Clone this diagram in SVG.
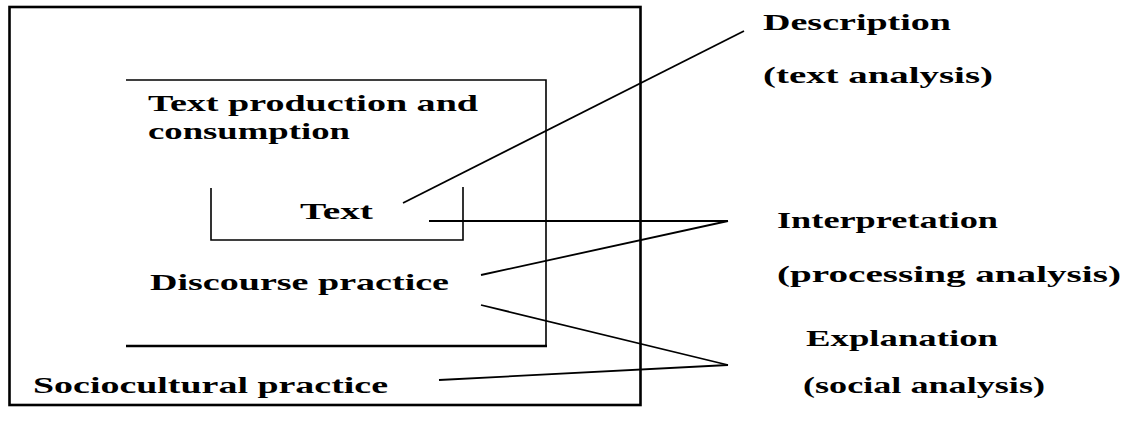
<svg xmlns="http://www.w3.org/2000/svg" width="1122" height="423" viewBox="0 0 1122 423">
<style>
text{font-family:"Liberation Serif","Times New Roman",serif;font-weight:bold;font-size:24px;fill:#000}
.box{fill:none;stroke:#000}
.conn{stroke:#000;stroke-width:1.8;fill:none}
</style>
<rect width="1122" height="423" fill="#fff"/>
<g id="sociocultural">
<rect class="box" x="9.5" y="7" width="631" height="398" stroke-width="2.6"/>
<text x="33" y="393" textLength="355" lengthAdjust="spacingAndGlyphs">Sociocultural practice</text>
</g>
<g id="discourse">
<path class="box" d="M126 80 H546 V346" stroke-width="1.6"/>
<path class="box" d="M126 346 H547" stroke-width="2.6"/>
<text x="148" y="111" textLength="330" lengthAdjust="spacingAndGlyphs">Text production and</text>
<text x="148" y="139" textLength="202" lengthAdjust="spacingAndGlyphs">consumption</text>
<text x="150" y="290" textLength="299" lengthAdjust="spacingAndGlyphs">Discourse practice</text>
</g>
<g id="text-box">
<path class="box" d="M211 188 V240 H463 V187" stroke-width="1.6"/>
<text x="300" y="219" textLength="73" lengthAdjust="spacingAndGlyphs">Text</text>
</g>
<g id="description">
<text x="763" y="30" textLength="188" lengthAdjust="spacingAndGlyphs">Description</text>
<text x="763" y="83" textLength="230" lengthAdjust="spacingAndGlyphs">(text analysis)</text>
</g>
<g id="interpretation">
<text x="777" y="228" textLength="221" lengthAdjust="spacingAndGlyphs">Interpretation</text>
<text x="777" y="282" textLength="344" lengthAdjust="spacingAndGlyphs">(processing analysis)</text>
</g>
<g id="explanation">
<text x="806" y="346" textLength="192" lengthAdjust="spacingAndGlyphs">Explanation</text>
<text x="803" y="393" textLength="242" lengthAdjust="spacingAndGlyphs">(social analysis)</text>
</g>
<g id="connectors">
<line class="conn" x1="403" y1="203" x2="744" y2="31"/>
<line class="conn" x1="429" y1="221" x2="728" y2="221"/>
<line class="conn" x1="481" y1="275" x2="728" y2="221"/>
<line class="conn" x1="481" y1="305" x2="728" y2="365"/>
<line class="conn" x1="439" y1="380" x2="728" y2="365"/>
</g>
</svg>
